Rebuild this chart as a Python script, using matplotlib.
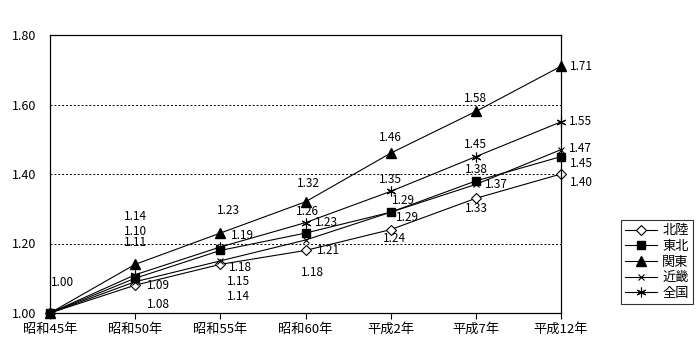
import matplotlib
matplotlib.use("Agg")
from matplotlib import pyplot as plt

plt.rcParams["font.family"] = ["Noto Sans CJK JP", "DejaVu Sans"]

years = ["昭和45年", "昭和50年", "昭和55年", "昭和60年", "平成2年", "平成7年", "平成12年"]
hokuriku = [1.00, 1.08, 1.14, 1.18, 1.24, 1.33, 1.40]
tohoku = [1.00, 1.10, 1.18, 1.23, 1.29, 1.38, 1.45]
kanto = [1.00, 1.14, 1.23, 1.32, 1.46, 1.58, 1.71]
kinki = [1.00, 1.09, 1.15, 1.21, 1.29, 1.37, 1.47]
zenkoku = [1.00, 1.11, 1.19, 1.26, 1.35, 1.45, 1.55]
yticks = [1.00, 1.20, 1.40, 1.60, 1.80]

# label offsets in pixels (None = no label drawn)
offs = {
    "北陸": [None, (23, -19), (18, -32), (7, -22), (4, -9), (1, -10), (20, -8)],
    "東北": [None, (0, 47), (20, -17), (21, 11), (13, 12), (1, 11), (20, -7)],
    "関東": [(13, 31), (0, 48), (8, 23), (3, 18), (0, 16), (0, 13), (20, 0)],
    "近畿": [None, (23, -4), (18, -21), (23, -10), (17, -5), (21, 0), (19, 1)],
    "全国": [None, (0, 32), (22, 11), (2, 11), (0, 12), (0, 12), (20, 0)],
}

series = [
    ("北陸", hokuriku, dict(marker="D", markersize=5, markerfacecolor="white", markeredgewidth=0.8)),
    ("東北", tohoku, dict(marker="s", markersize=6, markerfacecolor="black")),
    ("関東", kanto, dict(marker="^", markersize=7, markerfacecolor="black")),
    ("近畿", kinki, dict(marker="x", markersize=5, markeredgewidth=0.8)),
    ("全国", zenkoku, dict(marker=(6, 2, 0), markersize=7, markeredgewidth=0.8)),
]

fig = plt.figure(figsize=(7, 3.6), dpi=100)
ax = fig.add_axes([50 / 700, 1 - 313 / 360, 511 / 700, 278 / 360])
x = list(range(len(years)))

for name, vals, st in series:
    ax.plot(x, vals, color="black", linewidth=0.8, markeredgecolor="black",
            label=name, clip_on=False, **st)
    for i, v in enumerate(vals):
        o = offs[name][i]
        if o is None:
            continue
        ax.annotate("%.2f" % v, (i, v), xytext=o, textcoords="offset pixels",
                    ha="center", va="center", fontsize=8.5)

ax.set_xlim(0, len(years) - 1)
ax.set_ylim(1.0, 1.8)
ax.set_xticks(x)
ax.set_xticklabels(years, fontsize=9.5)
ax.set_yticks(yticks)
ax.set_yticklabels(["%.2f" % t for t in yticks], fontsize=9)
ax.tick_params(axis="y", length=0, pad=10)
ax.tick_params(axis="x", length=4, width=0.8, direction="out", pad=3)
for t in [1.2, 1.4, 1.6]:
    ax.axhline(t, color="black", linestyle=(0, (2, 2)), linewidth=0.7, zorder=0)
for s in ax.spines.values():
    s.set_linewidth(0.9)

leg = fig.legend(loc="lower left", bbox_to_anchor=(614 / 700, 1 - 311 / 360),
                 fontsize=9.5, frameon=True, fancybox=False, edgecolor="black",
                 handlelength=2.4, labelspacing=0.2, borderpad=0.35, handletextpad=0.4)
leg.get_frame().set_linewidth(0.8)

plt.savefig("out.png", dpi=100)
